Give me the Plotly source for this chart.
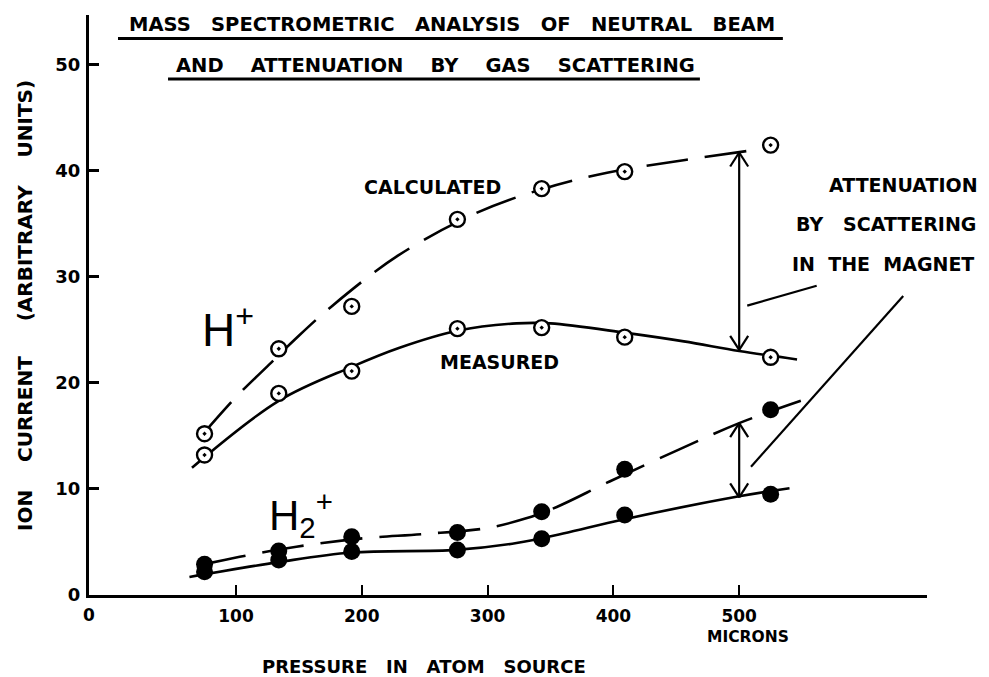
import plotly.graph_objects as go

# ---- data ----
pressure = [75, 134, 192, 276, 343, 409, 525]          # microns
h_calc = [15.2, 23.2, 27.2, 35.4, 38.3, 39.9, 42.4]    # H+ calculated
h_meas = [13.2, 19.0, 21.1, 25.1, 25.2, 24.3, 22.4]    # H+ measured
h2_calc = [2.9, 4.15, 5.5, 5.9, 7.85, 11.85, 17.45]    # H2+ calculated
h2_meas = [2.2, 3.3, 4.1, 4.25, 5.3, 7.55, 9.5]        # H2+ measured

# hand-drawn fitted curves
h_calc_fit_x = [74, 102, 128, 147, 176, 229, 291, 342, 395, 457, 510]
h_calc_fit_y = [15.2, 18.9, 21.9, 24.1, 27.2, 32.0, 36.0, 38.2, 39.8, 41.0, 41.9]
h_meas_fit_x = [65, 134, 192, 230, 276, 323, 350, 410, 456, 500, 546]
h_meas_fit_y = [12.0, 18.3, 21.5, 23.3, 24.9, 25.6, 25.6, 24.7, 23.9, 23.0, 22.2]
h2_calc_fit_x = [75, 103, 148, 201, 249, 299, 330, 355, 397, 452, 500, 549]
h2_calc_fit_y = [2.9, 3.6, 4.55, 5.34, 5.75, 6.3, 7.2, 8.3, 10.7, 13.7, 16.2, 18.3]
h2_meas_fit_x = [63, 134, 192, 275, 323, 360, 407, 500, 540]
h2_meas_fit_y = [1.7, 3.1, 4.0, 4.25, 4.9, 5.8, 7.1, 9.3, 10.06]

x_ticks = [100, 200, 300, 400, 500]
y_ticks = [0, 10, 20, 30, 40, 50]

# attenuation arrows (pressure, top, bottom)
att_x = 500
att_h = [41.7, 23.1]
att_h2 = [16.2, 9.2]

FONT = "DejaVu Sans"
BLACK = "black"
NB = "\u00a0"

fig = go.Figure()

dash = "42px,17px"
fig.add_trace(go.Scatter(x=h_calc_fit_x, y=h_calc_fit_y, mode="lines",
                         line=dict(color=BLACK, width=2.6, dash=dash, shape="spline")))
fig.add_trace(go.Scatter(x=h_meas_fit_x, y=h_meas_fit_y, mode="lines",
                         line=dict(color=BLACK, width=2.6, shape="spline")))
fig.add_trace(go.Scatter(x=h2_calc_fit_x, y=h2_calc_fit_y, mode="lines",
                         line=dict(color=BLACK, width=2.6, dash=dash, shape="spline")))
fig.add_trace(go.Scatter(x=h2_meas_fit_x, y=h2_meas_fit_y, mode="lines",
                         line=dict(color=BLACK, width=2.6, shape="spline")))

open_marker = dict(symbol="circle-dot", size=15, color="white",
                   line=dict(color=BLACK, width=2.4))
fig.add_trace(go.Scatter(x=pressure, y=h_calc, mode="markers", marker=open_marker))
fig.add_trace(go.Scatter(x=pressure, y=h_meas, mode="markers", marker=open_marker))
fill_marker = dict(symbol="circle", size=17, color=BLACK, line=dict(width=0))
fig.add_trace(go.Scatter(x=pressure, y=h2_calc, mode="markers", marker=fill_marker))
fig.add_trace(go.Scatter(x=pressure, y=h2_meas, mode="markers", marker=fill_marker))

ann = []
def txt(x, y, s, size, xref="x", yref="y", weight="normal", family=FONT, **kw):
    d = dict(x=x, y=y, text=s, xref=xref, yref=yref, showarrow=False,
             xanchor="center", yanchor="middle",
             font=dict(family=family, size=size, color=BLACK, weight=weight))
    d.update(kw)
    ann.append(d)

txt(0.4337, 0.9836, (NB * 3).join("MASS SPECTROMETRIC ANALYSIS OF NEUTRAL BEAM".split(" ")),
    19.5, xref="paper", yref="paper", weight="bold")
txt(0.4129, 0.9129, (NB * 4).join("AND ATTENUATION BY GAS SCATTERING".split(" ")),
    19.5, xref="paper", yref="paper", weight="bold")
txt(256.2, 38.45, "CALCULATED", 19, weight="bold")
txt(309.1, 21.96, "MEASURED", 19, weight="bold")
txt(631, 38.64, "ATTENUATION", 19, weight="bold")
txt(617, 34.92, "BY" + NB * 3 + "SCATTERING", 19, weight="bold")
txt(614.7, 31.15, "IN" + NB * 2 + "THE" + NB * 2 + "MAGNET", 19, weight="bold")
txt(71.0, 25.3, "H<sup>+</sup>", 46, family="Liberation Sans", xanchor="left")
txt(125.0, 7.6, "H<sub>2</sub><sup>+</sup>", 42, family="Liberation Sans", xanchor="left")
txt(0.0, -0.0345, "0", 17, xref="paper", yref="paper", weight="bold")
txt(0.7866, -0.0725, "MICRONS", 15.5, xref="paper", yref="paper", weight="bold")
txt(0.3998, -0.1233, (NB * 3).join("PRESSURE IN ATOM SOURCE".split(" ")), 18,
    xref="paper", yref="paper", weight="bold")
txt(-0.0764, 0.50, "ION" + NB * 4 + "CURRENT" + NB * 5 + "(ARBITRARY" + NB * 4 + "UNITS)", 20,
    xref="paper", yref="paper", weight="bold", textangle=-90)

line2 = dict(color=BLACK, width=2.2)
shapes = [
    dict(type="line", xref="paper", yref="paper", x0=0.0346, x1=0.828, y0=0.9595, y1=0.9595,
         line=dict(color=BLACK, width=3)),
    dict(type="line", xref="paper", yref="paper", x0=0.0943, x1=0.729, y0=0.8897, y1=0.8897,
         line=dict(color=BLACK, width=3)),
    dict(type="line", xref="x", yref="y", x0=506.4, y0=27.27, x1=561.6, y1=29.15, line=line2),
    dict(type="line", xref="x", yref="y", x0=630.4, y0=28.18, x1=509.4, y1=12.09, line=line2),
]
# double-headed attenuation arrows: shaft plus open V heads
for top, bot in (att_h, att_h2):
    shapes.append(dict(type="line", xref="x", yref="y", x0=att_x, x1=att_x, y0=top, y1=bot,
                       line=line2))
    for yv, sgn in ((top, -1), (bot, 1)):
        for side in (-1, 1):
            shapes.append(dict(type="line", xref="x", yref="y",
                               xsizemode="pixel", xanchor=att_x,
                               ysizemode="pixel", yanchor=yv,
                               x0=side * 9, y0=sgn * 14, x1=0, y1=0, line=line2))

fig.update_layout(
    width=989, height=677,
    margin=dict(l=89, r=62, t=15, b=82),
    plot_bgcolor="white", paper_bgcolor="white",
    showlegend=False,
    annotations=ann, shapes=shapes,
    xaxis=dict(range=[-16.85, 649.3], showline=True, linewidth=3, linecolor=BLACK,
               ticks="inside", ticklen=10, tickwidth=2, tickcolor=BLACK,
               tickvals=x_ticks, ticklabelstandoff=4,
               tickfont=dict(family=FONT, size=17, color=BLACK, weight="bold"),
               showgrid=False, zeroline=False),
    yaxis=dict(range=[0, 54.66], showline=True, linewidth=3, linecolor=BLACK,
               ticks="inside", ticklen=10, tickwidth=2.5, tickcolor=BLACK,
               tickvals=y_ticks, ticklabelstandoff=2,
               tickfont=dict(family=FONT, size=18, color=BLACK, weight="bold"),
               showgrid=False, zeroline=False),
)

fig.write_html("out.html", config={"displayModeBar": False},
               post_script="document.body.style.margin='0';")
